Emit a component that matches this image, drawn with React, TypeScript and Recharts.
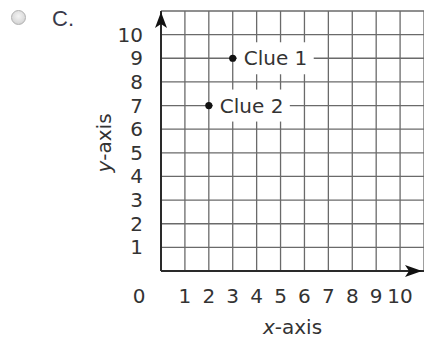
import React from "react";
import {
  ScatterChart,
  Scatter,
  XAxis,
  YAxis,
  CartesianGrid,
  Label,
} from "recharts";

// grid values and labels
const X_TICKS = [0, 1, 2, 3, 4, 5, 6, 7, 8, 9, 10];
const Y_TICKS = [0, 1, 2, 3, 4, 5, 6, 7, 8, 9, 10, 11];
const Y_LABELED = [1, 2, 3, 4, 5, 6, 7, 8, 9, 10];

// the two clue points
const CLUE_NAMES = ["Clue 1", "Clue 2"];
const CLUE_X = [3, 2];
const CLUE_Y = [9, 7];

const clues = CLUE_NAMES.map((name, i) => ({
  name,
  x: CLUE_X[i],
  y: CLUE_Y[i],
}));

const FONT = "'DejaVu Sans', Verdana, sans-serif";
const TEXT = "#333";
const AXIS = "#2a2a2a";

function XTick(props: any) {
  const { x, y, payload } = props;
  const v = payload.value;
  // origin label sits under the y labels column
  const tx = v === 0 ? x - 22 : x;
  return (
    <text
      x={tx}
      y={y + 32}
      textAnchor="middle"
      fontFamily={FONT}
      fontSize={20}
      fill={TEXT}
    >
      {v}
    </text>
  );
}

function YTick(props: any) {
  const { x, y, payload } = props;
  if (!Y_LABELED.includes(payload.value)) return null;
  return (
    <text
      x={x - 18}
      y={y}
      dy="0.35em"
      textAnchor="end"
      fontFamily={FONT}
      fontSize={20}
      fill={TEXT}
    >
      {payload.value}
    </text>
  );
}

function CluePoint(props: any) {
  const { cx, cy, payload } = props;
  return (
    <g>
      <rect x={cx + 4} y={cy - 16} width={77} height={32} fill="#fff" />
      <circle cx={cx} cy={cy} r={3.6} fill="#111" />
      <text
        x={cx + 11}
        y={cy + 7}
        fontFamily={FONT}
        fontSize={20}
        fill={TEXT}
      >
        {payload.name}
      </text>
    </g>
  );
}

function RadioDot() {
  return (
    <div
      style={{
        position: "absolute",
        left: 11,
        top: 10,
        width: 15,
        height: 15,
        borderRadius: "50%",
        border: "1px solid #b0b0b0",
        boxSizing: "border-box",
        background: "radial-gradient(circle at 50% 40%, #f4f4f4 0%, #dcdcdc 60%, #c4c4c4 100%)",
      }}
    />
  );
}

export default function App() {
  return (
    <div
      style={{
        position: "fixed",
        left: 0,
        top: 0,
        width: 424,
        height: 341,
        background: "#fff",
      }}
    >
      <svg width={0} height={0} style={{ position: "absolute" }}>
        <defs>
          <marker
            id="arrowRight"
            markerUnits="userSpaceOnUse"
            markerWidth={20}
            markerHeight={14}
            refX={19}
            refY={6}
            orient="auto"
          >
            <path d="M0,0 L17,6 L0,12 L4,6 Z" fill="#111" />
          </marker>
          <marker
            id="arrowUp"
            markerUnits="userSpaceOnUse"
            markerWidth={20}
            markerHeight={14}
            refX={17}
            refY={6}
            orient="auto-start-reverse"
          >
            <path d="M0,0 L16,6 L0,12 L4,6 Z" fill="#111" />
          </marker>
        </defs>
      </svg>
      <RadioDot />
      <span
        style={{
          position: "absolute",
          left: 52,
          top: 6,
          lineHeight: "26px",
          fontFamily: "'Liberation Sans', Arial, sans-serif",
          fontSize: 22,
          color: "#3a3a4a",
        }}
      >
        C.
      </span>
      <ScatterChart
        width={424}
        height={341}
        margin={{ top: 11, right: 0, bottom: 0, left: 101 }}
      >
        <CartesianGrid stroke="#6a6a6a" strokeWidth={1.3} />
        <XAxis
          type="number"
          dataKey="x"
          domain={[0, 11]}
          ticks={X_TICKS}
          interval={0}
          height={70}
          tickSize={0}
          tickMargin={0}
          tickLine={false}
          tick={<XTick />}
          axisLine={{ stroke: AXIS, strokeWidth: 2, markerEnd: "url(#arrowRight)" }}
        >
          <Label
            content={(p: any) => {
              const vb = p.viewBox;
              return (
                <text
                  x={vb.x + vb.width / 2}
                  y={vb.y + 63}
                  textAnchor="middle"
                  fontFamily={FONT}
                  fontSize={20}
                  fill={TEXT}
                >
                  <tspan fontStyle="italic">x</tspan>-axis
                </text>
              );
            }}
          />
        </XAxis>
        <YAxis
          type="number"
          dataKey="y"
          domain={[0, 11]}
          ticks={Y_TICKS}
          interval={0}
          width={60}
          tickSize={0}
          tickMargin={0}
          tickLine={false}
          tick={<YTick />}
          axisLine={{ stroke: AXIS, strokeWidth: 2, markerStart: "url(#arrowUp)" }}
        >
          <Label
            content={(p: any) => {
              const vb = p.viewBox;
              const cx = vb.x + 10;
              const cy = vb.y + vb.height / 2 + 2;
              return (
                <text
                  x={cx}
                  y={cy}
                  textAnchor="middle"
                  transform={`rotate(-90, ${cx}, ${cy})`}
                  fontFamily={FONT}
                  fontSize={20}
                  fill={TEXT}
                >
                  <tspan fontStyle="italic">y</tspan>-axis
                </text>
              );
            }}
          />
        </YAxis>
        <Scatter
          data={clues}
          isAnimationActive={false}
          shape={<CluePoint />}
        />
      </ScatterChart>
    </div>
  );
}
